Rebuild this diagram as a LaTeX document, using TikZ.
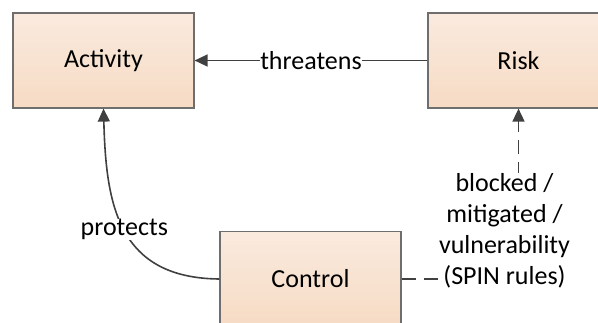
\documentclass[tikz,border=0pt]{standalone}
\usepackage{fontspec}
\setmainfont{Carlito}
\usetikzlibrary{arrows.meta}
\definecolor{boxtop}{RGB}{250,234,222}
\definecolor{boxbot}{RGB}{246,219,196}
\definecolor{boxline}{RGB}{110,110,110}
\definecolor{linkcol}{RGB}{64,64,64}
\tikzset{
  entity/.style={draw=boxline, line width=0.6pt, top color=boxtop, bottom color=boxbot,
    minimum width=90.5pt, minimum height=47.5pt, inner sep=0pt},
  link/.style={draw=linkcol, line width=0.8pt, -{Triangle[length=6.5pt,width=6pt]}},
  linklabel/.style={fill=white, inner sep=0.3pt, align=center}
}

\begin{document}
\begin{tikzpicture}[x=0.5pt, y=-0.5pt, font=\fontsize{13}{15.5}\selectfont]
				\useasboundingbox (0,0) rectangle (598,322);
				\node[entity] (activity) at (103.5, 60.5) {Activity};
				\node[entity] (risk) at (518.5, 60.5) {Risk};
				\node[entity] (control) at (310.5, 279) {Control};
				\draw[link] (risk) to node[linklabel] {threatens}(activity);
				\draw[link] (control.west) .. controls (118, 278) and (106, 205) .. node[linklabel, pos=0.5] {protects}(activity.south);
				\draw[link, dash pattern=on 7pt off 4pt] (control.east) -| (risk.south);
				\node[linklabel] (spin) at (504.5, 231) {blocked /\\ mitigated /\\ vulnerability\\ (SPIN rules)};
			\end{tikzpicture}
\end{document}
